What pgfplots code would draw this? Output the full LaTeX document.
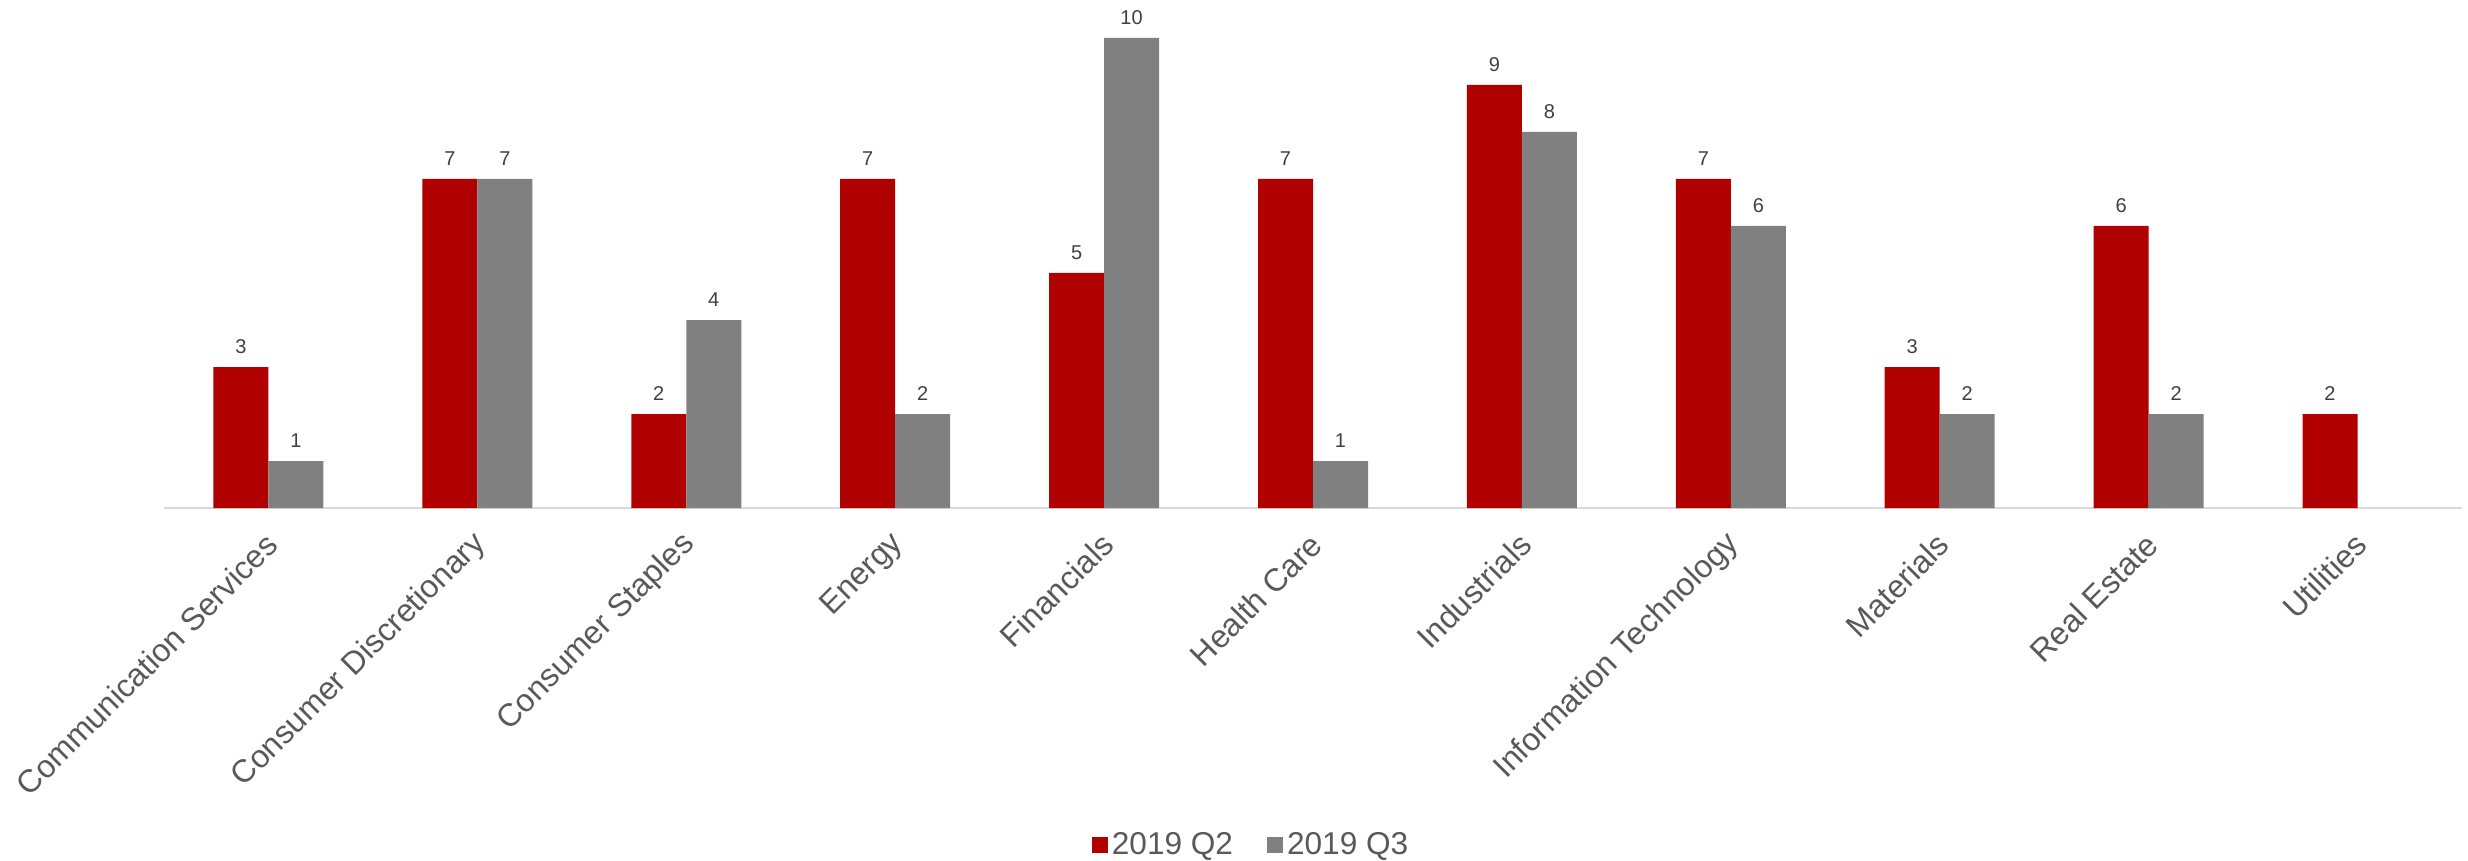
\documentclass[border=0pt]{standalone}
\usepackage{fontspec}
\setmainfont{Liberation Sans}
\usepackage{pgfplots}
\pgfplotsset{compat=1.18}
\definecolor{redbar}{HTML}{B00000}
\definecolor{graybar}{HTML}{808080}
\definecolor{txtgray}{HTML}{595959}
\definecolor{lblgray}{HTML}{404040}
\definecolor{axgray}{HTML}{D9D9D9}
\begin{document}
\begin{tikzpicture}
\begin{axis}[
  at={(0pt,0pt)}, anchor=south west,
  scale only axis, width=1149pt, height=235pt,
  ybar=0pt, bar width=27.5pt,
  xmin=-0.5, xmax=10.5, ymin=0, ymax=10,
  axis x line*=bottom, axis y line=none,
  x axis line style={axgray, line width=1pt},
  ytick=\empty,
  xtick={0,...,10},
  xticklabels={Communication Services,Consumer Discretionary,Consumer Staples,Energy,Financials,Health Care,Industrials,Information Technology,Materials,Real Estate,Utilities},
  major tick length=0pt,
  xticklabel style={rotate=45, anchor=east, font=\fontsize{16}{19}\selectfont, text=txtgray, inner sep=1pt, yshift=-12.3pt, xshift=-8.7pt},
  /pgf/number format/assume math mode=true,
  nodes near coords,
  every node near coord/.append style={font=\fontsize{10}{12}\selectfont, text=lblgray, yshift=3pt},
  legend style={at={(0.4735,-0.717)}, anchor=center, draw=none, fill=none, legend columns=2,
    font=\fontsize{15.8}{18}\selectfont, text=txtgray,
    /tikz/every even column/.append style={column sep=15pt}},
  legend image code/.code={\fill[#1] (0pt,-4pt) rectangle (8pt,4pt);},
]
\addplot[fill=redbar, draw=none] coordinates {(0,3) (1,7) (2,2) (3,7) (4,5) (5,7) (6,9) (7,7) (8,3) (9,6) (10,2)};
\addplot[fill=graybar, draw=none] coordinates {(0,1) (1,7) (2,4) (3,2) (4,10) (5,1) (6,8) (7,6) (8,2) (9,2)};
\legend{2019 Q2,2019 Q3}
\end{axis}
\pgfresetboundingbox
\useasboundingbox (-82pt,-176.5pt) rectangle (1152pt,254pt);
\end{tikzpicture}
\end{document}
